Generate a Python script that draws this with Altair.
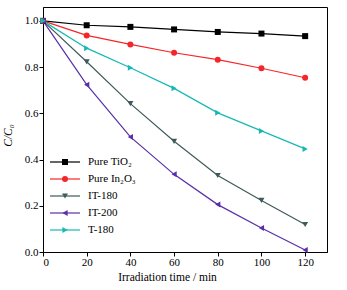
import altair as alt
import pandas as pd

times = [0, 20, 40, 60, 80, 100, 120]
series_names = ["Pure TiO₂", "Pure In₂O₃", "IT-180", "IT-200", "T-180"]
tio2 = [1.0, 0.981, 0.974, 0.963, 0.952, 0.945, 0.934]
in2o3 = [1.0, 0.937, 0.898, 0.862, 0.832, 0.795, 0.754]
it180 = [1.0, 0.823, 0.642, 0.479, 0.331, 0.223, 0.119]
it200 = [1.0, 0.724, 0.498, 0.336, 0.205, 0.104, 0.009]
t180 = [1.0, 0.882, 0.797, 0.708, 0.602, 0.524, 0.446]
colors = ["#000000", "#f5262a", "#3f5a5a", "#5a2fa8", "#16b8b4"]
shapes = ["square", "circle", "triangle-down", "triangle-left", "triangle-right"]
marker_sizes = [36, 36, 58, 58, 58]

values = [tio2, in2o3, it180, it200, t180]
rows = []
for name, vals in zip(series_names, values):
    for t, v in zip(times, vals):
        rows.append({"t": t, "c": v, "series": name})
df = pd.DataFrame(rows)
legend_df = pd.DataFrame({"series": series_names})

FONT = "Liberation Serif"

color_scale = alt.Scale(domain=series_names, range=colors)
shape_scale = alt.Scale(domain=series_names, range=shapes)
size_scale = alt.Scale(domain=series_names, range=marker_sizes)

x_enc = alt.X(
    "t:Q",
    scale=alt.Scale(domain=[0, 130], nice=False),
    axis=alt.Axis(
        title="Irradiation time / min",
        titleX=124,
        titleFontSize=11.5,
        values=list(range(0, 131, 10)),
        labelExpr="datum.value % 20 === 0 ? datum.label : ''",
        tickSize={"condition": {"test": "datum.value % 20 === 0", "value": 4}, "value": 2.5},
        labelOverlap=False,
        labelPadding=0,
        titlePadding=4,
        grid=False,
    ),
)
y_enc = alt.Y(
    "c:Q",
    scale=alt.Scale(domain=[0, 1.06], nice=False, zero=False),
    axis=alt.Axis(
        title="C/C₀",
        titleFontStyle="italic",
        titleFontSize=11.5,
        titleX=-32,
        titleY=128,
        titleBaseline="alphabetic",
        values=[round(i * 0.1, 1) for i in range(0, 11)],
        labelExpr="round(datum.value*10) % 2 === 0 ? format(datum.value, '.1f') : ''",
        tickSize={"condition": {"test": "round(datum.value*10) % 2 === 0", "value": 4}, "value": 2.5},
        labelOverlap=False,
        labelPadding=1,
        grid=False,
    ),
)

lines = alt.Chart(df).mark_line(strokeWidth=1.2).encode(
    x=x_enc,
    y=y_enc,
    detail="series:N",
    stroke=alt.Stroke("series:N", scale=color_scale, legend=None),
)

points = alt.Chart(df).mark_point(filled=True, opacity=1).encode(
    x="t:Q",
    y="c:Q",
    fill=alt.Fill("series:N", scale=color_scale, legend=None),
    shape=alt.Shape("series:N", scale=shape_scale, legend=None),
    size=alt.Size("series:N", scale=size_scale, legend=None),
)

main = alt.layer(lines, points)

# legend built from the same scales, rows placed by a point scale
leg_y = alt.Y(
    "series:N",
    scale=alt.Scale(type="point", domain=series_names, range=[155, 223], padding=0),
    axis=None,
)
leg_lines = alt.Chart(legend_df).mark_rule(strokeWidth=1.2).encode(
    x=alt.value(7),
    x2=alt.value(37),
    y=leg_y,
    stroke=alt.Stroke("series:N", scale=color_scale, legend=None),
)
leg_points = alt.Chart(legend_df).mark_point(filled=True, opacity=1).encode(
    x=alt.value(22),
    y=leg_y,
    fill=alt.Fill("series:N", scale=color_scale, legend=None),
    shape=alt.Shape("series:N", scale=shape_scale, legend=None),
    size=alt.Size("series:N", scale=size_scale, legend=None),
)
leg_text = alt.Chart(legend_df).mark_text(
    align="left", baseline="middle", font=FONT, fontSize=11, color="black"
).encode(
    x=alt.value(45),
    y=leg_y,
    text="series:N",
)
legend_layer = alt.layer(leg_lines, leg_points, leg_text)

chart = (
    alt.layer(main, legend_layer)
    .resolve_scale(y="independent")
    .properties(
        width=284,
        height=245,
        autosize=alt.AutoSizeParams(type="none"),
        padding={"left": 43, "top": 7, "right": 20, "bottom": 38},
        background="white",
    )
    .configure_view(stroke="black", strokeWidth=1)
    .configure_axis(
        domainColor="black",
        tickColor="black",
        labelColor="black",
        titleColor="black",
        labelFont=FONT,
        titleFont=FONT,
        labelFontSize=11,
        titleFontWeight="normal",
        domainWidth=1,
        tickWidth=1,
    )
)

chart.save("out.html", embed_options={"renderer": "svg", "actions": False})
